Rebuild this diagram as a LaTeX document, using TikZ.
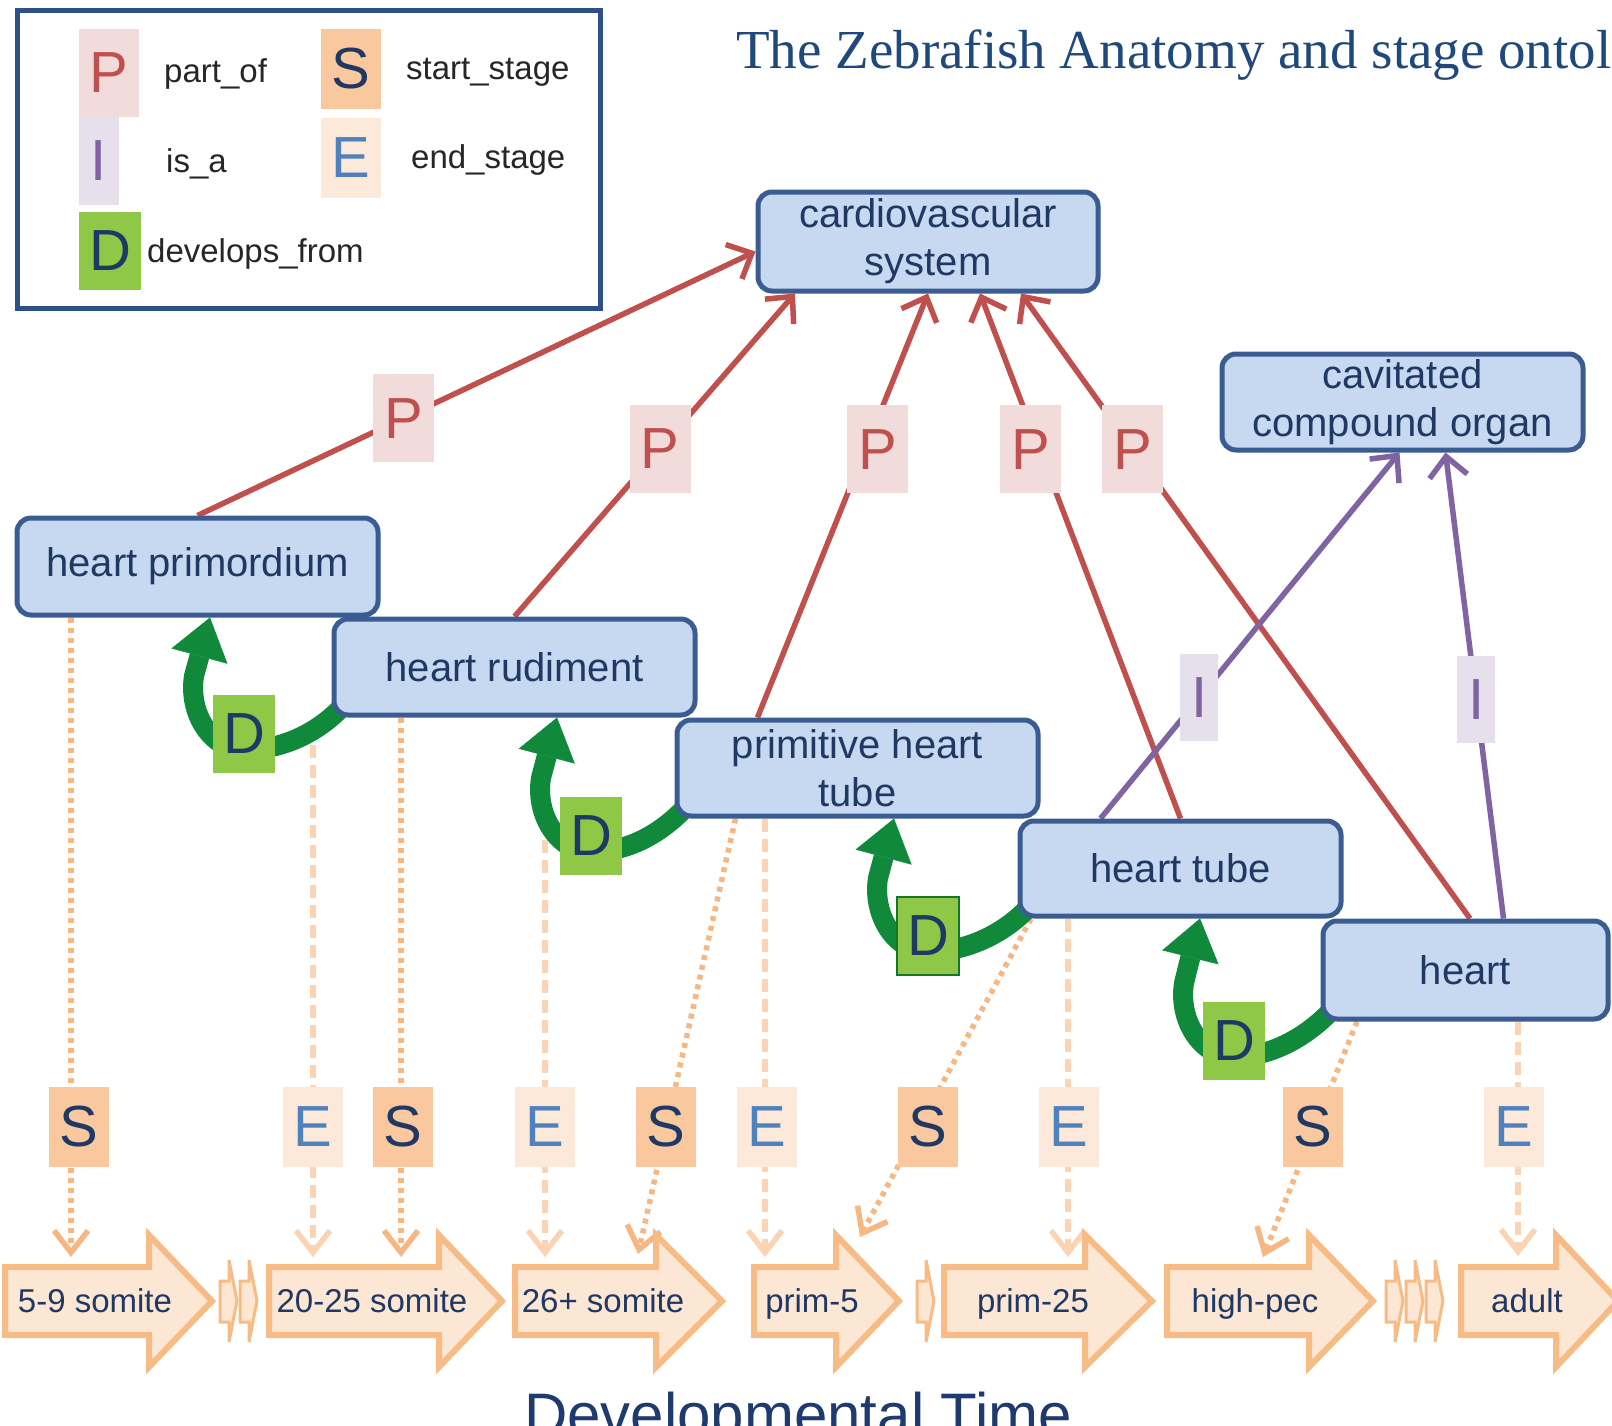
\documentclass[tikz,border=0pt]{standalone}
\usepackage{fontspec}
\setmainfont{Liberation Sans}
\newfontfamily\titleserif{Liberation Serif}
\usetikzlibrary{arrows.meta,calc}

\definecolor{boxfill}{RGB}{198,217,240}
\definecolor{boxline}{RGB}{58,92,145}
\definecolor{navy}{RGB}{31,56,100}
\definecolor{pred}{RGB}{192,80,77}
\definecolor{pfill}{RGB}{242,220,219}
\definecolor{ipurple}{RGB}{128,100,162}
\definecolor{ifill}{RGB}{229,224,236}
\definecolor{dgreen}{RGB}{16,138,58}
\definecolor{dfill}{RGB}{143,200,70}
\definecolor{dborder}{RGB}{20,120,40}
\definecolor{sfill}{RGB}{249,200,158}
\definecolor{efill}{RGB}{253,233,217}
\definecolor{eblue}{RGB}{79,129,189}
\definecolor{sline}{RGB}{246,183,130}
\definecolor{eline}{RGB}{250,212,180}
\definecolor{tborder}{RGB}{247,187,133}
\definecolor{tfill}{RGB}{252,230,212}
\definecolor{legline}{RGB}{45,80,137}
\definecolor{titleblue}{RGB}{31,73,125}
\definecolor{devblue}{RGB}{31,58,110}

\pgfdeclarelayer{back}
\pgfdeclarelayer{links}
\pgfsetlayers{back,links,main}

% one stage of the time line: left end, start of the head, tip
\newcommand{\stagestep}[3]{%
  \draw[stagearrow] (#1,1267) -- (#2,1267) -- (#2,1235) -- (#3,1301)
    -- (#2,1367) -- (#2,1335) -- (#1,1335) -- cycle;}
% small arrow standing for skipped stages
\newcommand{\gapstep}[1]{%
  \draw[stagearrow, line width=3pt] (#1,1281) -- ({#1+9},1281) -- ({#1+9},1260)
    -- ({#1+17},1301) -- ({#1+9},1342) -- ({#1+9},1322) -- (#1,1322) -- cycle;}
% curved develops_from arrow: start, label node, tip
\newcommand{\devlink}[3]{%
  \draw[devfrom] #1 .. controls +(-28,28) and +(32,0) .. ($(#2)+(0,16)$)
    .. controls +(-32,0) and +(-6,38) .. ($(#2)+(-50,-58)$) -- #3;}

\begin{document}
\begin{tikzpicture}[x=1pt,y=-1pt,
  anat/.style={draw=boxline, fill=boxfill, line width=5pt, rounded corners=14pt,
    inner sep=0pt, minimum height=96pt, align=center, text=navy,
    font=\fontsize{40}{48}\selectfont},
  tag/.style={inner sep=0pt, font=\fontsize{58}{58}\selectfont},
  ptag/.style={tag, fill=pfill, text=pred, minimum width=61pt, minimum height=88pt},
  itag/.style={tag, fill=ifill, text=ipurple, minimum width=38pt, minimum height=87pt},
  dtag/.style={tag, fill=dfill, text=navy, minimum width=62pt, minimum height=78pt},
  stag/.style={tag, fill=sfill, text=navy, minimum width=60pt, minimum height=80pt},
  etag/.style={tag, fill=efill, text=eblue, minimum width=60pt, minimum height=80pt},
  partof/.style={draw=pred, line width=5.5pt, -{Straight Barb[length=20pt,width=38pt]}},
  isa/.style={draw=ipurple, line width=5.5pt, -{Straight Barb[length=20pt,width=38pt]}},
  devfrom/.style={draw=dgreen, line width=20pt,
    -{Triangle[length=40pt,width=58pt,line width=0.5pt]}},
  startlink/.style={draw=sline, line width=5.5pt, dash pattern=on 5pt off 5pt,
    -{Straight Barb[length=22pt,width=34pt]}},
  endlink/.style={draw=eline, line width=5.5pt, dash pattern=on 13pt off 7pt,
    -{Straight Barb[length=22pt,width=34pt]}},
  stagearrow/.style={draw=tborder, fill=tfill, line width=6pt, line join=miter},
  stagetext/.style={text=navy, font=\fontsize{33}{33}\selectfont, inner sep=0pt, anchor=base},
  legendtext/.style={text=black!85, font=\fontsize{33}{33}\selectfont, inner sep=0pt, anchor=base west}
]
\useasboundingbox (0,0) rectangle (1612,1426);
\begin{pgfonlayer}{back}
  \fill[white] (0,0) rectangle (1612,1426);
\end{pgfonlayer}

% ---------- legend ----------
\node[draw=legline, line width=5pt, fill=white, minimum width=583pt,
  minimum height=298pt, inner sep=0pt] (legend) at (309,159.5) {};
\node[ptag, minimum width=60pt] (lp) at (109,73) {P};
\node[itag, minimum width=40pt] (li) at (99,161) {I};
\node[dtag] (ld) at (110,251) {D};
\node[stag] (ls) at (351,69) {S};
\node[etag, minimum height=79pt] (le) at (351,158) {E};
\node[legendtext] (lpt) at (164,83) {part\_of};
\node[legendtext] (lit) at (166,172) {is\_a};
\node[legendtext] (ldt) at (147,262) {develops\_from};
\node[legendtext] (lst) at (406,80) {start\_stage};
\node[legendtext] (let) at (411,168) {end\_stage};

% ---------- title ----------
\node[anchor=base west, inner sep=0pt, text=titleblue,
  font=\titleserif\fontsize{55}{55}\selectfont] (title) at (736,69)
  {The Zebrafish Anatomy and stage ontol};

% ---------- time line ----------
\stagestep{5}{149}{212}
\gapstep{220}
\gapstep{240}
\stagestep{269}{439}{502}
\stagestep{515}{656}{722}
\stagestep{754}{836}{899}
\gapstep{917}
\stagestep{944}{1085}{1152}
\stagestep{1167}{1309}{1373}
\gapstep{1386}
\gapstep{1406}
\gapstep{1426}
\stagestep{1461}{1556}{1618}
\node[stagetext] (st1) at (95,1312) {5-9 somite};
\node[stagetext] (st2) at (372,1312) {20-25 somite};
\node[stagetext] (st3) at (603,1312) {26+ somite};
\node[stagetext] (st4) at (812,1312) {prim-5};
\node[stagetext] (st5) at (1033,1312) {prim-25};
\node[stagetext] (st6) at (1255,1312) {high-pec};
\node[stagetext] (st7) at (1527,1312) {adult};
\node[anchor=base west, inner sep=0pt, text=devblue,
  font=\fontsize{60}{60}\selectfont] (devtime) at (524,1435) {Developmental Time};

% points on the time line reached by the stage links
\coordinate (tS1) at (71,1257);
\coordinate (tE1) at (313,1257);
\coordinate (tS2) at (401,1257);
\coordinate (tE2) at (545,1257);
\coordinate (tS3) at (638,1254);
\coordinate (tE3) at (765,1257);
\coordinate (tS4) at (860,1237);
\coordinate (tE4) at (1068,1257);
\coordinate (tS5) at (1263,1257);
\coordinate (tE5) at (1518,1256);
\coordinate (e1top) at (313,745);
\coordinate (e2top) at (545,820);

% ---------- anatomy terms ----------
\node[anat, minimum width=340pt, minimum height=99pt] (cvs) at (928,241.5) {cardiovascular\\system};
\node[anat, minimum width=361pt] (cco) at (1402.5,402) {cavitated\\compound organ};
\node[anat, minimum width=361pt, minimum height=97pt] (hp) at (197.5,566.5) {heart primordium};
\node[anat, minimum width=361pt] (hr) at (514.5,667) {heart rudiment};
\node[anat, minimum width=361pt] (pht) at (857.5,768) {primitive heart\\tube};
\node[anat, minimum width=321pt, minimum height=95pt] (ht) at (1180.5,868.5) {heart tube};
\node[anat, minimum width=285pt, minimum height=98pt] (heart) at (1465.5,970) {heart};

% ---------- develops_from labels ----------
\node[dtag] (d1) at (244,734) {D};
\node[dtag] (d2) at (591,836) {D};
\node[dtag, draw=dborder, line width=2pt] (d3) at (928,936) {D};
\node[dtag] (d4) at (1234,1041) {D};

% ---------- stage labels ----------
\node[stag] (s1) at (79,1127) {S};
\node[etag] (e1) at (313,1127) {E};
\node[stag] (s2) at (403,1127) {S};
\node[etag] (e2) at (545,1127) {E};
\node[stag] (s3) at (666,1127) {S};
\node[etag] (e3) at (767,1127) {E};
\node[stag] (s4) at (928,1127) {S};
\node[etag] (e4) at (1069,1127) {E};
\node[stag] (s5) at (1313,1127) {S};
\node[etag] (e5) at (1514,1127) {E};

\begin{pgfonlayer}{links}
  % start_stage / end_stage
  \draw[startlink] ([xshift=-126.5pt]hp.south) -- (tS1);
  \draw[endlink] (e1top) -- (tE1);
  \draw[startlink] ([xshift=-113.5pt]hr.south) -- (tS2);
  \draw[endlink] (e2top) -- (tE2);
  \draw[startlink] ([xshift=-122pt]pht.south) -- (tS3);
  \draw[endlink] ([xshift=-92.5pt]pht.south) -- (tE3);
  \draw[startlink] ([xshift=-149.5pt]ht.south) -- (tS4);
  \draw[endlink] ([xshift=-112.5pt]ht.south) -- (tE4);
  \draw[startlink] ([xshift=-108.5pt]heart.south) -- (tS5);
  \draw[endlink] ([xshift=52.5pt]heart.south) -- (tE5);

  % develops_from
  \devlink{($(hr.south west)+(8,-8)$)}{d1}{($(d1 |- hp.south)+(-34,0)$)}
  \devlink{($(pht.south west)+(8,-8)$)}{d2}{($(d2 |- hr.south)+(-34,0)$)}
  \devlink{($(ht.south west)+(8,-8)$)}{d3}{($(d3 |- pht.south)+(-34,0)$)}
  \devlink{($(heart.south west)+(8,-8)$)}{d4}{($(d4 |- ht.south)+(-34,0)$)}

  % part_of
  \draw[partof] (hp.north) -- node[ptag, pos=0.369] (p1) {P} ([yshift=-10pt]cvs.west);
  \draw[partof] (hr.north) -- node[ptag, pos=0.519] (p2) {P} ([xshift=-133pt]cvs.south);
  \draw[partof] ([xshift=-100pt]pht.north) -- node[ptag, pos=0.633, xshift=12pt] (p3) {P} (cvs.south);
  \draw[partof] (ht.north) -- node[ptag, pos=0.703, xshift=-9pt] (p4) {P} ([xshift=52pt]cvs.south);
  \draw[partof] ([xshift=4.5pt]heart.north) -- node[ptag, pos=0.751] (p5) {P} ([xshift=93pt]cvs.south);

  % is_a
  \draw[isa] ([xshift=-80pt]ht.north) -- node[itag, pos=0.33] (i1) {I} ([xshift=-3pt]cco.south);
  \draw[isa] ([xshift=38pt]heart.north) -- node[itag, pos=0.47] (i2) {I} ([xshift=43pt]cco.south);
\end{pgfonlayer}
\end{tikzpicture}
\end{document}
